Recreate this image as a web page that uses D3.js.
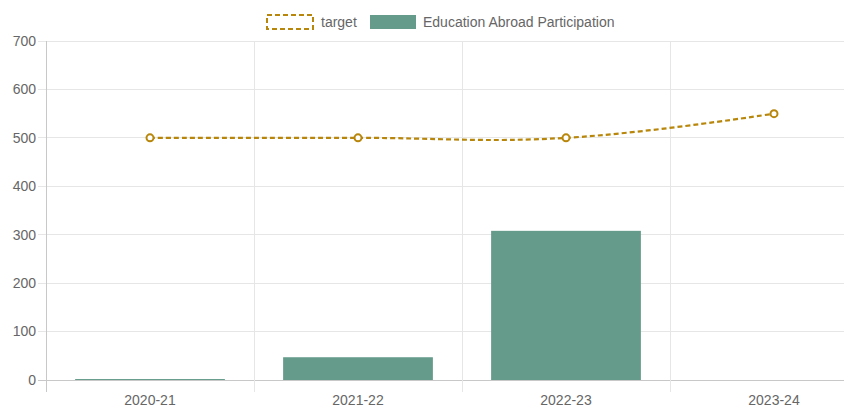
<!DOCTYPE html>
<html><head><meta charset="utf-8">
<script src="https://cdn.jsdelivr.net/npm/d3@7"></script>
<style>body{margin:0;background:#fff;overflow:hidden}svg{display:block}</style>
</head><body>
<svg id="c" width="844" height="410"></svg>
<script>
const categories = ["2020-21", "2021-22", "2022-23", "2023-24"];
const participation = [2, 47, 308, 0];
const target = [500, 500, 500, 550];
const yTicks = [0, 100, 200, 300, 400, 500, 600, 700];

(function () {
const W = 844, H = 410;
const mLeft = 46, mTop = 41, mBottom = 380, bandW = 208;
const svg = d3.select("#c");
const font = "'Liberation Sans', Arial, sans-serif";
const txt = "#666";
const fs = 14;

const x = d3.scaleBand().domain(categories).range([mLeft, mLeft + bandW * categories.length]).paddingInner(0).paddingOuter(0);
const y = d3.scaleLinear().domain([0, 700]).range([mBottom, mTop]);

// horizontal gridlines + y labels
const gy = svg.append("g");
yTicks.forEach(t => {
  gy.append("line").attr("x1", mLeft - 8).attr("x2", W).attr("y1", y(t)).attr("y2", y(t))
    .attr("stroke", t === 0 ? "#c8c8c8" : "#e6e6e6").attr("stroke-width", 1).attr("shape-rendering", "crispEdges");
  gy.append("text").attr("x", mLeft - 10).attr("y", y(t)).attr("dy", "0.35em").attr("text-anchor", "end")
    .attr("font-family", font).attr("font-size", fs).attr("fill", txt).text(t);
});
// vertical gridlines
categories.forEach((c, i) => {
  const xv = x(c);
  svg.append("line").attr("x1", xv).attr("x2", xv).attr("y1", mTop).attr("y2", mBottom + 12)
    .attr("stroke", i === 0 ? "#c8c8c8" : "#e6e6e6").attr("shape-rendering", "crispEdges");
  svg.append("text").attr("x", xv + bandW / 2).attr("y", 405).attr("text-anchor", "middle")
    .attr("font-family", font).attr("font-size", fs).attr("fill", txt).text(c);
});

// bars
const bw = bandW * 0.72;
svg.append("g").selectAll("rect").data(participation).join("rect")
  .attr("x", (d, i) => x(categories[i]) + (bandW - bw) / 2)
  .attr("y", d => y(d))
  .attr("width", bw)
  .attr("height", d => mBottom - y(d))
  .attr("fill", "#659b8b");

// line
const pts = target.map((d, i) => [x(categories[i]) + bandW / 2, y(d)]);
const line = d3.line().curve(d3.curveCardinal.tension(-0.2));
svg.append("path").attr("d", line(pts)).attr("fill", "none").attr("stroke", "#b8860b")
  .attr("stroke-width", 2.2).attr("stroke-dasharray", "5,3");
svg.append("g").selectAll("circle").data(pts).join("circle")
  .attr("cx", d => d[0]).attr("cy", d => d[1]).attr("r", 3.5)
  .attr("fill", "#fff").attr("stroke", "#b8860b").attr("stroke-width", 2);

// legend
const lg = svg.append("g").attr("font-family", font).attr("font-size", fs).attr("fill", txt);
lg.append("rect").attr("x", 267).attr("y", 15).attr("width", 46).attr("height", 14)
  .attr("fill", "#fff").attr("stroke", "#b8860b").attr("stroke-width", 2).attr("stroke-dasharray", "5,3");
lg.append("text").attr("x", 321).attr("y", 22).attr("dy", "0.35em").text("target");
lg.append("rect").attr("x", 370).attr("y", 15).attr("width", 46).attr("height", 14).attr("fill", "#659b8b");
lg.append("text").attr("x", 423).attr("y", 22).attr("dy", "0.35em").text("Education Abroad Participation");
})();
</script>
</body></html>
